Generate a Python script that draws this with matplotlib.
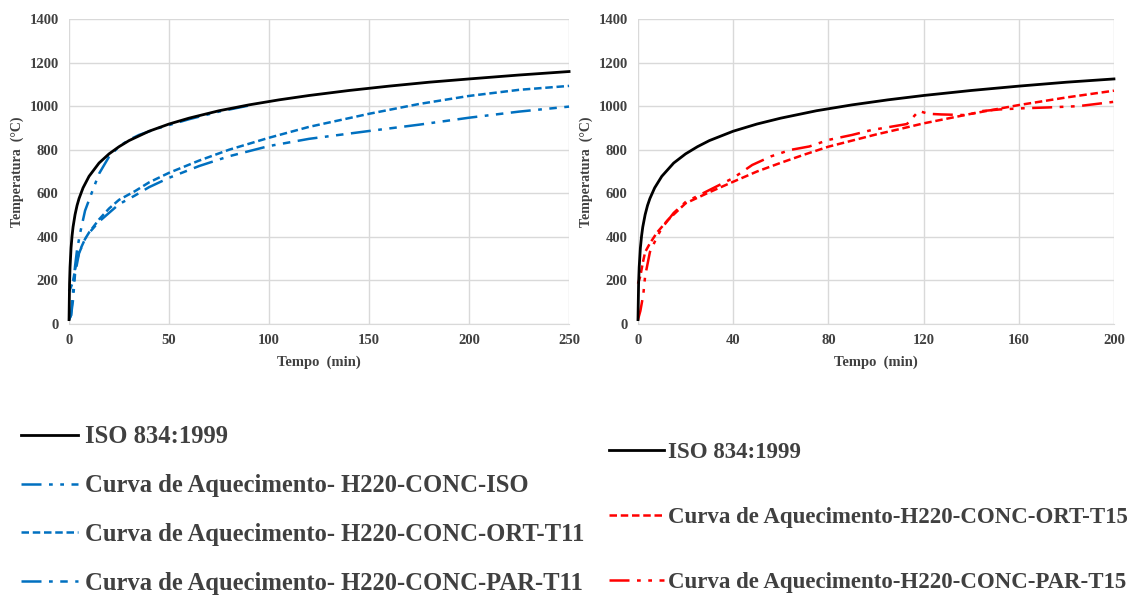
import numpy as np
import matplotlib
matplotlib.use("Agg")
import matplotlib.pyplot as plt

plt.rcParams['font.family'] = ['Liberation Serif', 'DejaVu Serif']

# ---------- data ----------
# ISO 834 standard fire curve (black), minutes -> degC
iso_t = [0, 0.25, 0.5, 1, 1.5, 2, 3, 4, 5, 7, 10, 15, 20, 25, 30, 40, 50, 60, 75, 90,
         105, 120, 140, 160, 180, 200, 225, 250]
iso_T = [20, 185, 261, 349, 404, 445, 502, 544, 576, 625, 678, 739, 781, 814, 842, 885,
         918, 945, 979, 1006, 1029, 1049, 1072, 1092, 1110, 1125, 1143, 1159]

# left panel (blue)
iso_conc_t = [0, 1, 2, 3, 4, 5.6, 8, 11, 15, 20, 25, 30, 35, 45, 60, 75, 90]
iso_conc_T = [20, 40, 150, 265, 340, 420, 520, 594, 690, 768, 815, 845, 868, 900, 940, 975, 1003]

ort11_t = [0, 1, 2, 3, 5, 8, 10, 15, 20, 25, 33, 40, 50, 65, 80, 100, 120, 150, 175,
           200, 225, 250]
ort11_T = [150, 170, 195, 250, 330, 390, 420, 480, 530, 570, 610, 650, 694, 750, 800,
           855, 905, 965, 1010, 1047, 1075, 1093]

par11_t = [0, 1, 2, 3, 5, 8, 10, 15, 20, 25, 33, 40, 50, 65, 80, 100, 120, 150, 175,
           200, 225, 250]
par11_T = [20, 40, 110, 230, 325, 390, 418, 470, 510, 550, 590, 628, 671, 725, 770,
           817, 850, 886, 915, 947, 975, 998]

# right panel (red)
ort15_t = [0, 1, 2, 3, 5, 8, 12.5, 20, 30, 40, 50, 60, 70, 80, 100, 110, 120, 140,
           160, 180, 200]
ort15_T = [185, 220, 280, 330, 370, 420, 477, 554, 605, 653, 700, 740, 778, 814, 870,
           895, 921, 965, 1005, 1040, 1071]

par15_t = [0, 1, 2.2, 3, 5, 8, 10, 15, 20, 30, 40, 48, 56, 64, 72, 80, 90, 98, 106,
           113, 118, 122, 127.5, 138, 145, 152, 161, 172, 185, 200]
par15_T = [20, 60, 133, 220, 330, 400, 440, 510, 560, 615, 670, 730, 770, 799, 815,
           845, 868, 890, 905, 918, 978, 965, 962, 959, 978, 985, 990, 994, 1000, 1020]

left_labels = ["ISO 834:1999",
               "Curva de Aquecimento- H220-CONC-ISO",
               "Curva de Aquecimento- H220-CONC-ORT-T11",
               "Curva de Aquecimento- H220-CONC-PAR-T11"]
right_labels = ["ISO 834:1999",
                "Curva de Aquecimento-H220-CONC-ORT-T15",
                "Curva de Aquecimento-H220-CONC-PAR-T15"]

BLUE = "#0070C0"
RED = "#FF0000"
TXT = "#404040"
GRID = "#d9d9d9"

fig = plt.figure(figsize=(11.3, 5.95), dpi=100)
ax1 = fig.add_axes([0.0611, 0.4555, 0.4425, 0.5125])
ax2 = fig.add_axes([0.5646, 0.4555, 0.4212, 0.5125])


def style_axes(ax, xmax, xstep):
    ax.set_xlim(0, xmax)
    ax.set_ylim(0, 1400)
    ax.set_xticks(np.arange(0, xmax + 1, xstep))
    ax.set_yticks(np.arange(0, 1401, 200))
    ax.grid(True, color=GRID, linewidth=1.0)
    ax.set_axisbelow(True)
    for s in ["top", "right", "left"]:
        ax.spines[s].set_visible(False)
    ax.spines["bottom"].set_color(GRID)
    ax.tick_params(length=0, labelsize=10.5, colors=TXT, pad=7.5)
    for lab in ax.get_xticklabels() + ax.get_yticklabels():
        lab.set_fontweight("bold")
    ax.set_xlabel("Tempo  (min)", fontsize=10.5, fontweight="bold", color=TXT, labelpad=6)
    ax.set_ylabel("Temperatura  (°C)", fontsize=10, fontweight="bold", color=TXT, labelpad=4)


# ---------- left panel ----------
h_iso_c, = ax1.plot(iso_conc_t, iso_conc_T, color=BLUE, lw=1.8,
                    linestyle=(0, (8, 3, 1.5, 3, 1.5, 3)), clip_on=False)
h_ort11, = ax1.plot(ort11_t, ort11_T, color=BLUE, lw=1.8, linestyle=(0, (3, 1.5)), clip_on=False)
h_par11, = ax1.plot(par11_t, par11_T, color=BLUE, lw=1.8, linestyle=(0, (8, 3, 1.5, 3, 3, 3)),
                    clip_on=False)
h_iso1, = ax1.plot(iso_t, iso_T, color="black", lw=2.0, clip_on=False)
style_axes(ax1, 250, 50)

# ---------- right panel ----------
h_ort15, = ax2.plot(ort15_t, ort15_T, color=RED, lw=1.8, linestyle=(0, (3, 1.5)), clip_on=False)
h_par15, = ax2.plot(par15_t, par15_T, color=RED, lw=1.8,
                    linestyle=(0, (8, 3, 1.5, 3, 1.5, 3)), clip_on=False)
iso_t2 = [t for t in iso_t if t <= 200]
iso_T2 = iso_T[:len(iso_t2)]
h_iso2, = ax2.plot(iso_t2, iso_T2, color="black", lw=2.0, clip_on=False)
style_axes(ax2, 200, 40)

# ---------- legends below ----------
leg1 = fig.legend([h_iso1, h_iso_c, h_ort11, h_par11], left_labels,
                  loc="upper left", bbox_to_anchor=(0.010, 0.3015), frameon=False,
                  prop={"family": "Liberation Serif", "weight": "bold", "size": 17.7},
                  handlelength=2.3, handletextpad=0.3,
                  labelspacing=1.05, borderaxespad=0)
for t in leg1.get_texts():
    t.set_color(TXT)

leg2 = fig.legend([h_iso2, h_ort15, h_par15], right_labels,
                  loc="upper left", bbox_to_anchor=(0.531, 0.273), frameon=False,
                  prop={"family": "Liberation Serif", "weight": "bold", "size": 16.5},
                  handlelength=2.4, handletextpad=0.15,
                  labelspacing=1.92, borderaxespad=0)
for t in leg2.get_texts():
    t.set_color(TXT)

fig.savefig("out.png", dpi=100)
